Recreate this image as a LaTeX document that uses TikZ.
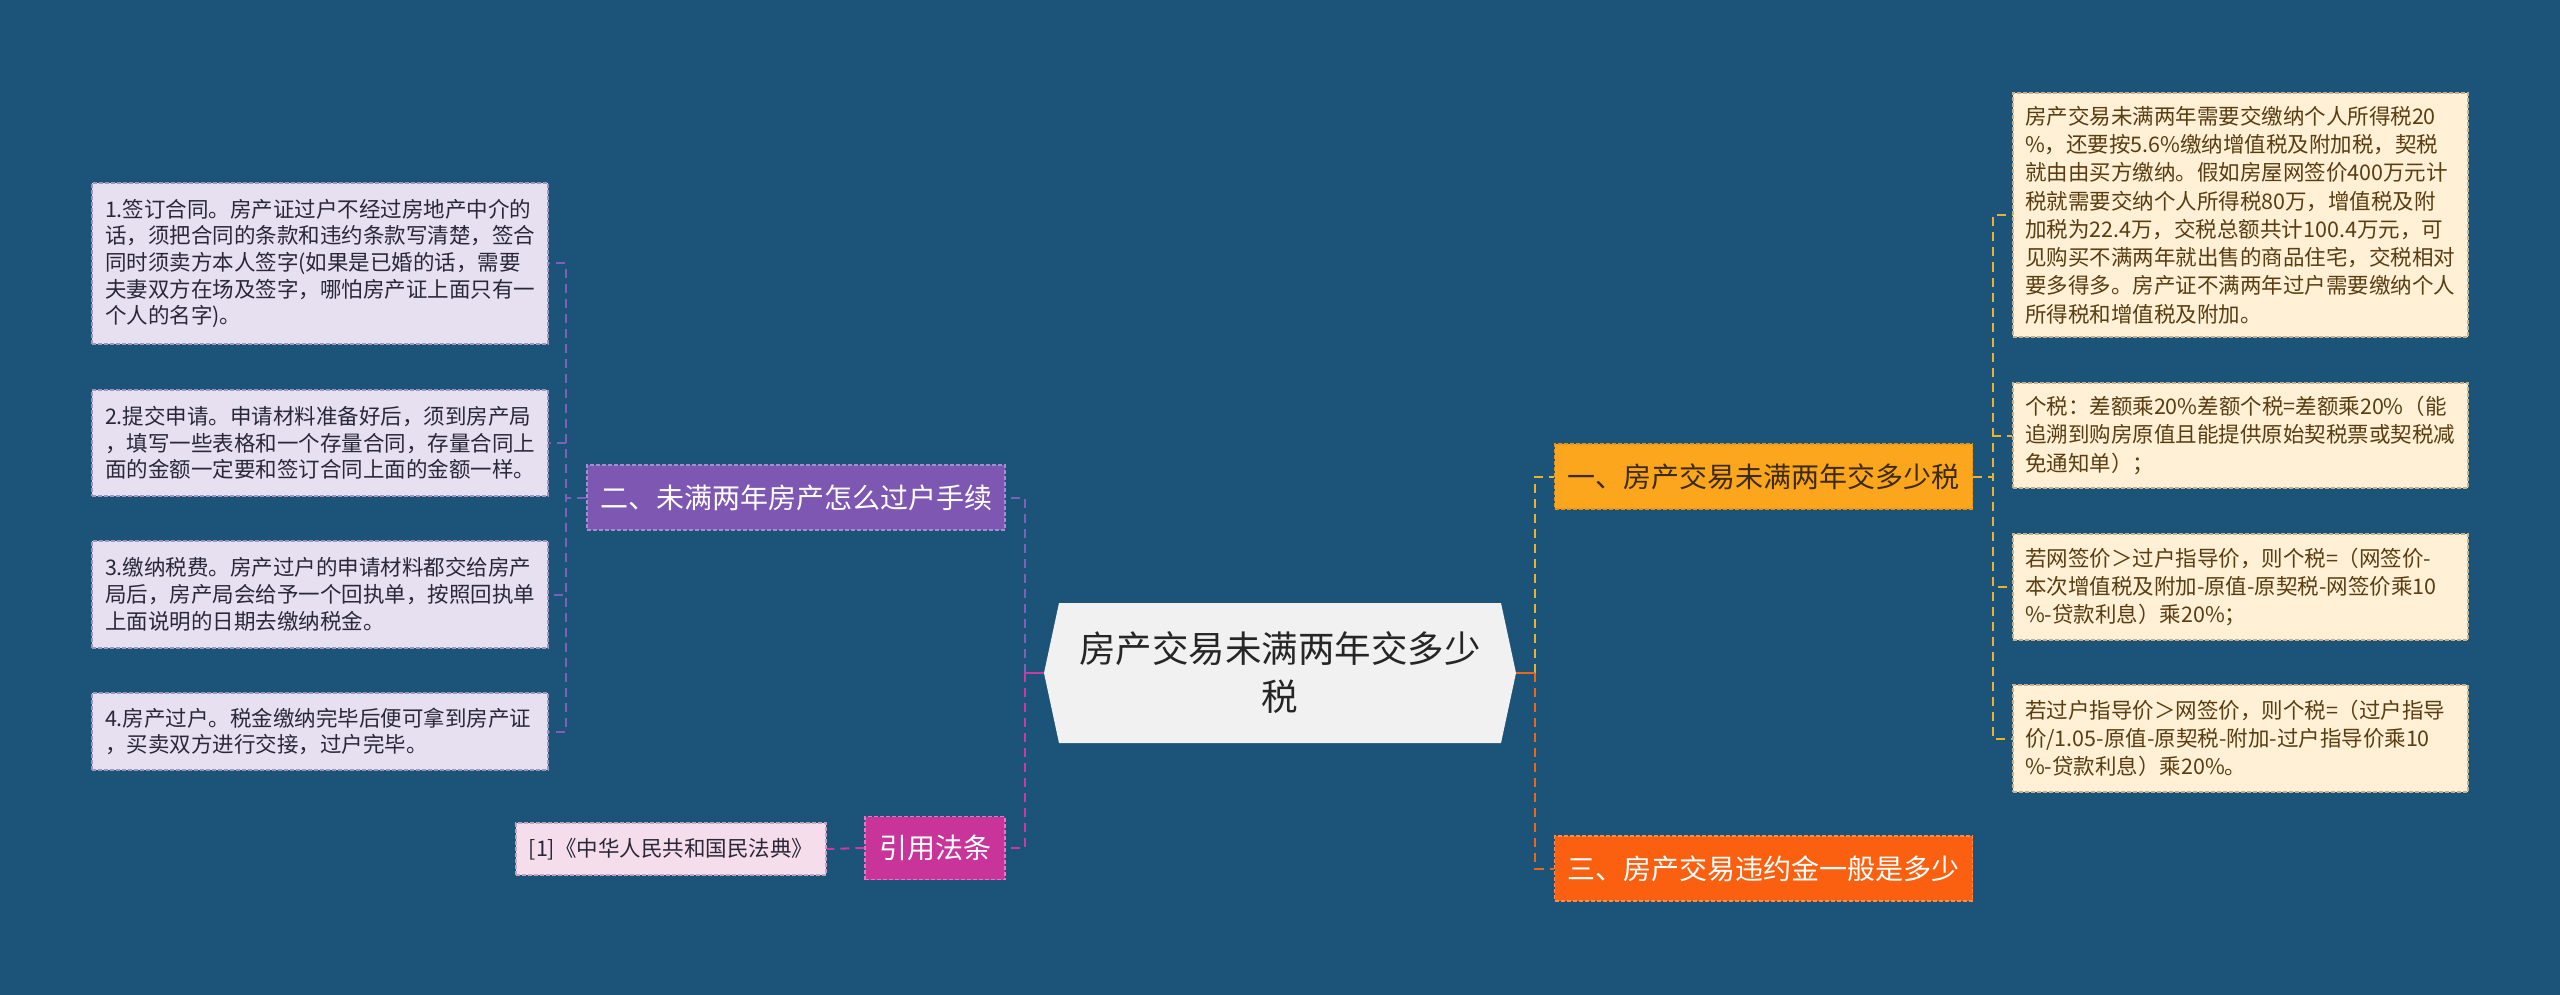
\documentclass[tikz,border=0pt]{standalone}
\usepackage{fontspec}
\setmainfont{Noto Sans CJK SC}
\usetikzlibrary{calc}
\definecolor{bgc}{HTML}{1B5478}
\definecolor{lfill}{HTML}{E6E0F1}
\definecolor{lbord}{HTML}{9F95BC}
\definecolor{ltext}{HTML}{2A2838}
\definecolor{purp}{HTML}{7E57B2}
\definecolor{purpb}{HTML}{A48CD0}
\definecolor{purpc}{HTML}{7F5FBA}
\definecolor{mag}{HTML}{C9349B}
\definecolor{magb}{HTML}{E277C6}
\definecolor{magc}{HTML}{CC3AA0}
\definecolor{pfill}{HTML}{F5DDEC}
\definecolor{pbord}{HTML}{C8A2C2}
\definecolor{cfill}{HTML}{F1F1F1}
\definecolor{ctext}{HTML}{262626}
\definecolor{yel}{HTML}{FBA61C}
\definecolor{yelb}{HTML}{E5911A}
\definecolor{yelc}{HTML}{E9B233}
\definecolor{ytext}{HTML}{3B2A0C}
\definecolor{ora}{HTML}{FA600F}
\definecolor{orab}{HTML}{FF8A4A}
\definecolor{orac}{HTML}{EC671E}
\definecolor{rfill}{HTML}{FFF0D6}
\definecolor{rbord}{HTML}{C3B08E}
\definecolor{rtext}{HTML}{5A3D10}
\tikzset{
  boxdash/.style={dash pattern=on 4pt off 2pt, line width=1.2pt},
  leftbox/.style={boxdash, draw=lbord, fill=lfill, text=ltext,
    font=\fontsize{21.5}{26.7}\selectfont, align=left, text width=430pt,
    inner xsep=13pt, inner ysep=0pt},
  rightbox/.style={boxdash, draw=rbord, fill=rfill, text=rtext,
    font=\fontsize{21.5}{28.3}\selectfont, align=left, text width=431pt,
    inner xsep=12pt, inner ysep=0pt},
  topbox/.style={boxdash, inner sep=0pt, font=\fontsize{28}{34}\selectfont,
    minimum width=418pt, minimum height=65pt},
  con/.style={dash pattern=on 9pt off 6pt, line width=2pt},
}
\begin{document}
\begin{tikzpicture}[x=1pt,y=-1pt]
\fill[bgc] (0,0) rectangle (2560,995);
\useasboundingbox (0,0) rectangle (2560,995);

% central node
\coordinate (cc) at (1280,673);
\fill[cfill] ($(cc)+(-236,0)$) -- ($(cc)+(-221,-70)$) -- ($(cc)+(221,-70)$)
  -- ($(cc)+(236,0)$) -- ($(cc)+(221,70)$) -- ($(cc)+(-221,70)$) -- cycle;
\node[minimum width=472pt, minimum height=140pt, inner sep=0pt, align=center,
  text=ctext, font=\fontsize{36.5}{48}\selectfont] (c) at (cc)
  {房产交易未满两年交多少\\税};

% left side
\node[topbox, draw=purpb, fill=purp, text=white] (n2) at (796,497.5)
  {二、未满两年房产怎么过户手续};
\node[leftbox, minimum height=161pt] (L1) at (320,263.5)
  {1.签订合同。房产证过户不经过房地产中介的\\话，须把合同的条款和违约条款写清楚，签合\\同时须卖方本人签字(如果是已婚的话，需要\\夫妻双方在场及签字，哪怕房产证上面只有一\\个人的名字)。};
\node[leftbox, minimum height=106pt] (L2) at (320,443)
  {2.提交申请。申请材料准备好后，须到房产局\\，填写一些表格和一个存量合同，存量合同上\\面的金额一定要和签订合同上面的金额一样。};
\node[leftbox, minimum height=107pt] (L3) at (320,594.5)
  {3.缴纳税费。房产过户的申请材料都交给房产\\局后，房产局会给予一个回执单，按照回执单\\上面说明的日期去缴纳税金。};
\node[leftbox, minimum height=77pt] (L4) at (320,731.5)
  {4.房产过户。税金缴纳完毕后便可拿到房产证\\，买卖双方进行交接，过户完毕。};
\node[boxdash, draw=magb, fill=mag, text=white, inner sep=0pt,
  font=\fontsize{28}{34}\selectfont, minimum width=140pt, minimum height=63pt]
  (yin) at (935,848) {引用法条};
\node[boxdash, draw=pbord, fill=pfill, text=ltext, inner sep=0pt,
  font=\fontsize{21.5}{26}\selectfont, minimum width=310pt, minimum height=52pt]
  (law) at (671,849) {[1]《中华人民共和国民法典》};

% right side
\node[topbox, draw=yelb, fill=yel, text=ytext] (n1) at (1763.5,476.5)
  {一、房产交易未满两年交多少税};
\node[topbox, draw=orab, fill=ora, text=white] (n3) at (1763.5,868.5)
  {三、房产交易违约金一般是多少};
\node[rightbox, minimum height=244pt] (R1) at (2240.5,215)
  {房产交易未满两年需要交缴纳个人所得税20\\\%，还要按5.6\%缴纳增值税及附加税，契税\\就由由买方缴纳。假如房屋网签价400万元计\\税就需要交纳个人所得税80万，增值税及附\\加税为22.4万，交税总额共计100.4万元，可\\见购买不满两年就出售的商品住宅，交税相对\\要多得多。房产证不满两年过户需要缴纳个人\\所得税和增值税及附加。};
\node[rightbox, minimum height=105pt] (R2) at (2240.5,435.5)
  {个税：差额乘20\%差额个税=差额乘20\%（能\\追溯到购房原值且能提供原始契税票或契税减\\免通知单）；};
\node[rightbox, minimum height=106pt] (R3) at (2240.5,587)
  {若网签价＞过户指导价，则个税=（网签价-\\本次增值税及附加-原值-原契税-网签价乘10\\\%-贷款利息）乘20\%；};
\node[rightbox, minimum height=107pt] (R4) at (2240.5,738.5)
  {若过户指导价＞网签价，则个税=（过户指导\\价/1.05-原值-原契税-附加-过户指导价乘10\\\%-贷款利息）乘20\%。};

% connectors left
\foreach \b in {L1,L2,L3,L4}
  \draw[con, purpc] (n2.west) -- ++(-20,0) |- (\b.east);
\coordinate (cl) at ($(c.west)+(-19,0)$);
\draw[con, purpc] (cl) |- (n2.east);
\draw[con, magc] (cl) |- (yin.east);
\draw[magc, line width=2pt] (c.west) -- (cl);
\draw[con, magc] (yin.west) -- (law.east);

% connectors right
\coordinate (cr) at ($(c.east)+(19,0)$);
\draw[con, yelc] (cr) |- (n1.west);
\draw[con, orac] (cr) |- (n3.west);
\draw[orac, line width=2pt] (c.east) -- (cr);
\foreach \b in {R1,R2,R3,R4}
  \draw[con, yelc] (n1.east) -- ++(20,0) |- (\b.west);
\end{tikzpicture}
\end{document}
